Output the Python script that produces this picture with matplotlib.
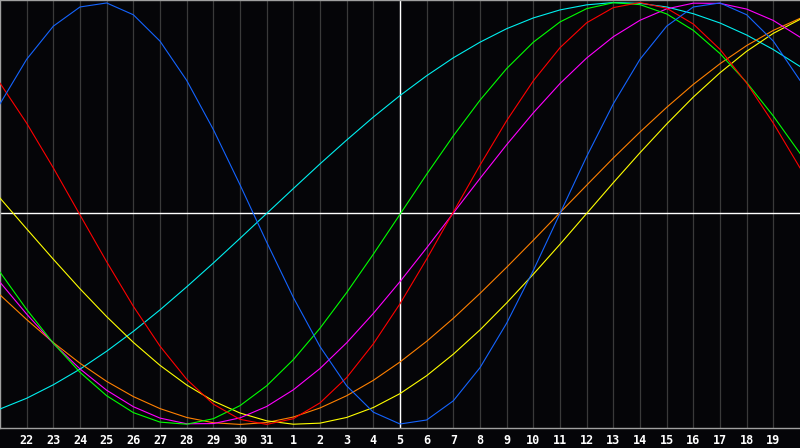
import numpy as np
import matplotlib
matplotlib.use("Agg")
import matplotlib.pyplot as plt

# day labels along the bottom (21st of one month to the 20th of the next)
days = [21, 22, 23, 24, 25, 26, 27, 28, 29, 30, 31,
        1, 2, 3, 4, 5, 6, 7, 8, 9, 10, 11, 12, 13, 14, 15, 16, 17, 18, 19, 20]
today = 5

# cycle values per day, -1 .. 1
physical = [0.520, 0.731, 0.888, 0.979, 0.998, 0.942, 0.817, 0.631, 0.398, 0.136, -0.136, -0.398, -0.631, -0.817, -0.942, -0.998, -0.979, -0.888, -0.731, -0.520, -0.270, 0.000, 0.270, 0.520, 0.731, 0.888, 0.979, 0.998, 0.942, 0.817, 0.631]
emotional = [0.618, 0.428, 0.216, -0.007, -0.229, -0.440, -0.629, -0.786, -0.904, -0.976, -1.000, -0.973, -0.898, -0.778, -0.618, -0.428, -0.216, 0.007, 0.229, 0.440, 0.629, 0.786, 0.904, 0.976, 1.000, 0.973, 0.898, 0.778, 0.618, 0.428, 0.216]
intellectual = [-0.278, -0.455, -0.615, -0.753, -0.864, -0.944, -0.989, -0.999, -0.973, -0.911, -0.817, -0.693, -0.544, -0.375, -0.193, -0.004, 0.186, 0.368, 0.537, 0.687, 0.812, 0.908, 0.971, 0.999, 0.990, 0.946, 0.868, 0.758, 0.621, 0.462, 0.285]
intuitive = [-0.326, -0.477, -0.616, -0.737, -0.838, -0.916, -0.970, -0.997, -0.996, -0.969, -0.915, -0.836, -0.735, -0.613, -0.474, -0.323, -0.163, 0.002, 0.166, 0.326, 0.477, 0.616, 0.737, 0.838, 0.916, 0.970, 0.997, 0.996, 0.969, 0.915, 0.836]
aesthetic = [0.073, -0.073, -0.217, -0.357, -0.489, -0.611, -0.720, -0.813, -0.889, -0.946, -0.983, -0.999, -0.994, -0.967, -0.920, -0.854, -0.769, -0.667, -0.552, -0.424, -0.288, -0.146, 0.000, 0.146, 0.288, 0.424, 0.552, 0.667, 0.769, 0.854, 0.920]
awareness = [-0.386, -0.503, -0.612, -0.710, -0.796, -0.868, -0.925, -0.967, -0.992, -1.000, -0.991, -0.965, -0.922, -0.864, -0.791, -0.704, -0.606, -0.497, -0.379, -0.255, -0.127, 0.004, 0.134, 0.263, 0.386, 0.503, 0.612, 0.710, 0.796, 0.868, 0.925]
spiritual = [-0.927, -0.876, -0.812, -0.738, -0.653, -0.559, -0.457, -0.348, -0.235, -0.118, 0.000, 0.118, 0.235, 0.348, 0.457, 0.559, 0.653, 0.738, 0.812, 0.876, 0.927, 0.965, 0.989, 1.000, 0.996, 0.979, 0.947, 0.903, 0.846, 0.777, 0.697]

series = [
    (spiritual, "#00f0f0"),
    (awareness, "#ff8000"),
    (aesthetic, "#ffff00"),
    (intuitive, "#ff00ff"),
    (intellectual, "#00ff00"),
    (emotional, "#ff0000"),
    (physical, "#1464ff"),
]

bg = "#050508"
fig = plt.figure(figsize=(8, 4.48), dpi=100, facecolor=bg)
ax = fig.add_axes([0, 20 / 448, 1, 428 / 448])
ax.set_facecolor(bg)

x = np.arange(len(days))
ax.set_xlim(0, len(days) - 1)
ax.set_ylim(-1.017, 1.012)

# day grid
for i in x[1:-1]:
    ax.axvline(i, color="#3a3a3a", lw=0.9, zorder=1)

for vals, col in series:
    ax.plot(x, vals, color=col, lw=0.8, zorder=3)

ax.axhline(0, color="white", lw=1.0, zorder=2)
ax.axvline(days.index(today, 11), color="white", lw=1.0, zorder=2)

ax.set_yticks([])
ax.set_xticks(x[1:-1])
ax.set_xticklabels([str(d) for d in days[1:-1]], color="white",
                   fontsize=8.5, fontweight="bold", family="DejaVu Sans Mono")
ax.tick_params(axis="x", length=0, pad=4)

for side in ["top", "bottom", "left"]:
    ax.spines[side].set_color("#a0a0a0")
    ax.spines[side].set_linewidth(1.0)
ax.spines["right"].set_visible(False)

fig.savefig("out.png", dpi=100, facecolor=bg)
